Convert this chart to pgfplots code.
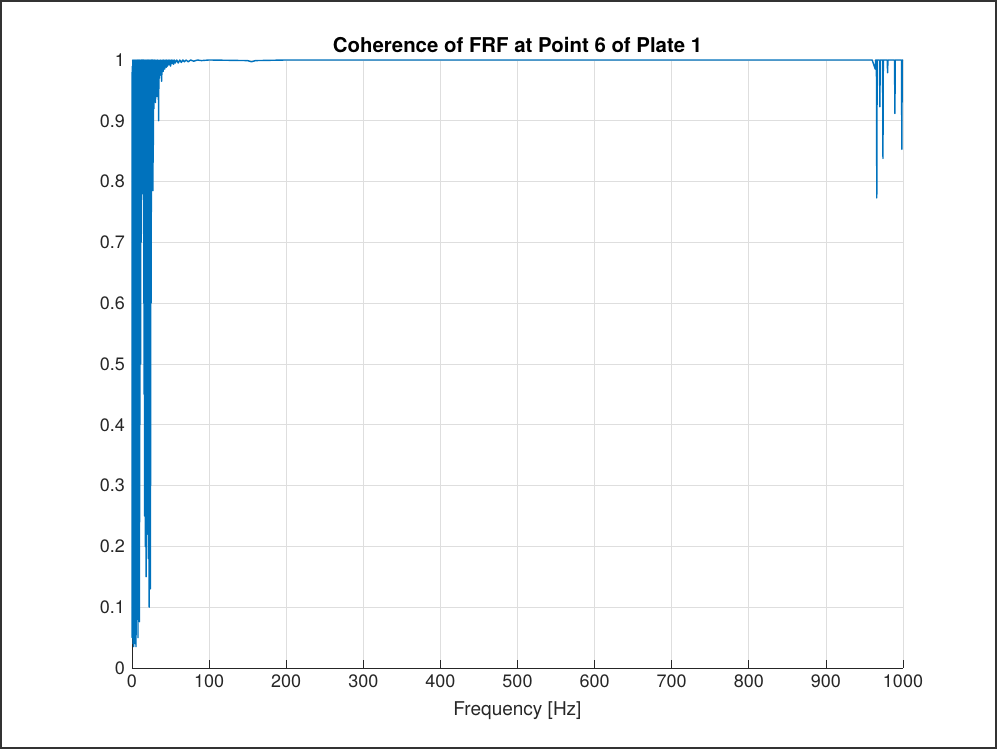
\documentclass[border=0pt]{standalone}
\usepackage{pgfplots}
\pgfplotsset{compat=1.18}
\usepackage{fontspec}
\setmainfont{TeX Gyre Heros}
\definecolor{mblue}{RGB}{0,114,189}
\definecolor{mgrid}{RGB}{222,222,222}
\definecolor{maxis}{RGB}{38,38,38}
\begin{document}
\begin{tikzpicture}
\useasboundingbox (-66pt,-40.5pt) rectangle (432.5pt,334pt);
\draw[line width=1pt, black!80] (-65.5pt,-40pt) rectangle (432pt,333.5pt);
\begin{axis}[
  at={(0,0)}, anchor=south west,
  scale only axis, width=385.5pt, height=304pt,
  xmin=0, xmax=1000, ymin=0, ymax=1,
  enlargelimits=false, clip=false,
  axis lines*=left,
  axis line style={-, maxis, line width=0.4pt},
  xtick={0,100,200,300,400,500,600,700,800,900,1000},
  ytick={0,0.1,0.2,0.3,0.4,0.5,0.6,0.7,0.8,0.9,1},
  yticklabels={0,0.1,0.2,0.3,0.4,0.5,0.6,0.7,0.8,0.9,1},
  xticklabels={0,100,200,300,400,500,600,700,800,900,1000},
  grid=major, major grid style={mgrid, line width=0.4pt},
  tick style={maxis, line width=0.4pt}, major tick length=3.8pt,
  tick align=inside,
  ticklabel style={font=\fontsize{9}{10}\selectfont, text=maxis},
  /pgf/number format/assume math mode=true,
  title={\textbf{Coherence of FRF at Point 6 of Plate 1}},
  title style={font=\fontsize{10.2}{12}\selectfont, yshift=-6pt},
  xlabel={Frequency [Hz]},
  xlabel style={font=\fontsize{9.5}{11}\selectfont, text=maxis},
]
\addplot[mblue, line width=0.7pt, line join=round] coordinates {
(0.00,0.98) (0.25,0.05) (0.50,0.99) (0.75,0.12) (1.00,1.00) (1.25,0.04) (1.50,0.97) (1.75,0.20)
(2.00,0.99) (2.25,0.035) (2.50,1.00) (2.75,0.15) (3.00,0.96) (3.25,0.06) (3.50,0.99) (3.75,0.30)
(4.00,1.00) (4.25,0.04) (4.50,0.98) (4.75,0.10) (5.00,0.99) (5.25,0.035) (5.50,1.00) (5.75,0.22)
(6.00,0.97) (6.25,0.08) (6.50,0.99) (6.75,0.45) (7.00,1.00) (7.25,0.13) (7.50,0.98) (7.75,0.05)
(8.00,0.99) (8.25,0.35) (8.50,1.00) (8.75,0.18) (9.00,0.97) (9.25,0.55) (9.50,0.99) (9.75,0.076)
(10.00,1.00) (10.25,0.40) (10.50,0.98) (10.75,0.60) (11.00,0.99) (11.25,0.50) (11.50,1.00) (11.75,0.70)
(12.00,0.98) (12.25,0.77) (12.50,1.00) (12.75,0.85) (13.00,0.99) (13.25,0.78) (13.50,1.00) (13.75,0.90)
(14.00,0.98) (14.25,0.80) (14.50,1.00) (14.75,0.88) (15.00,0.99) (15.25,0.60) (15.50,1.00) (15.75,0.45)
(16.00,0.98) (16.25,0.25) (16.50,0.99) (16.75,0.50) (17.00,1.00) (17.25,0.20) (17.50,0.97) (17.75,0.325)
(18.00,0.99) (18.25,0.15) (18.50,1.00) (18.75,0.40) (19.00,0.98) (19.25,0.28) (19.50,0.99) (19.75,0.55)
(20.00,1.00) (20.25,0.22) (20.50,0.98) (20.75,0.45) (21.00,0.99) (21.25,0.18) (21.50,1.00) (21.75,0.35)
(22.00,0.98) (22.25,0.10) (22.50,0.99) (22.75,0.48) (23.00,1.00) (23.25,0.25) (23.50,0.98) (23.75,0.13)
(24.00,0.99) (24.25,0.30) (24.50,1.00) (24.75,0.60) (25.00,0.98) (25.25,0.75) (25.50,1.00) (25.75,0.82)
(26.00,0.99) (26.25,0.87) (26.50,1.00) (26.75,0.80) (27.00,0.99) (27.25,0.785) (27.50,1.00) (27.75,0.86)
(28.00,0.99) (28.50,0.92) (29.00,1.00) (29.50,0.95) (30.00,0.99) (30.50,0.93) (31.00,1.00) (31.50,0.96)
(32.00,0.99) (32.50,0.94) (33.00,1.00) (33.50,0.97) (34.00,0.99) (34.50,0.90) (35.00,1.00) (35.50,0.97)
(36.00,0.995) (36.50,0.975) (37.00,1.00) (37.50,0.98) (38.00,0.995) (38.50,0.965) (39.00,1.00) (39.50,0.985)
(40.00,0.998) (40.50,0.981) (41.00,1.00) (41.50,0.99) (42.00,0.998) (42.50,0.985) (43.00,1.00) (43.50,0.99)
(44.00,0.998) (44.50,0.988) (45.00,1.00) (46.00,0.99) (47.00,1.00) (48.00,0.992) (49.00,1.00) (50.00,0.99)
(51.00,1.00) (52.00,0.994) (53.00,1.00) (54.00,0.993) (55.00,1.00) (56.00,0.995) (58.00,1.00) (60.00,0.995)
(62.00,1.00) (64.00,0.996) (66.00,1.00) (68.00,0.997) (70.00,1.00) (73.00,0.997) (76.00,1.00) (80.00,0.998)
(85.00,1.00) (90.00,0.999) (100.00,1.00) (150.00,0.999) (155.00,0.997) (160.00,0.999) (200.00,1.00)
(400.00,1.00) (600.00,1.00) (800.00,1.00) (960.00,1.00) (964.00,0.985) (964.5,1.00) (965.5,1.00)
(966.00,0.773) (966.5,1.00) (969.5,1.00) (970.00,0.923) (970.5,1.00) (973.5,1.00) (974.00,0.838) (974.5,1.00)
(979.5,1.00) (980.00,0.979) (980.5,1.00) (989.00,1.00) (989.5,0.912) (990.00,1.00) (998.00,1.00)
(998.5,0.853) (999.00,1.00) (1000.00,1.00)
};
\end{axis}
\end{tikzpicture}
\end{document}
